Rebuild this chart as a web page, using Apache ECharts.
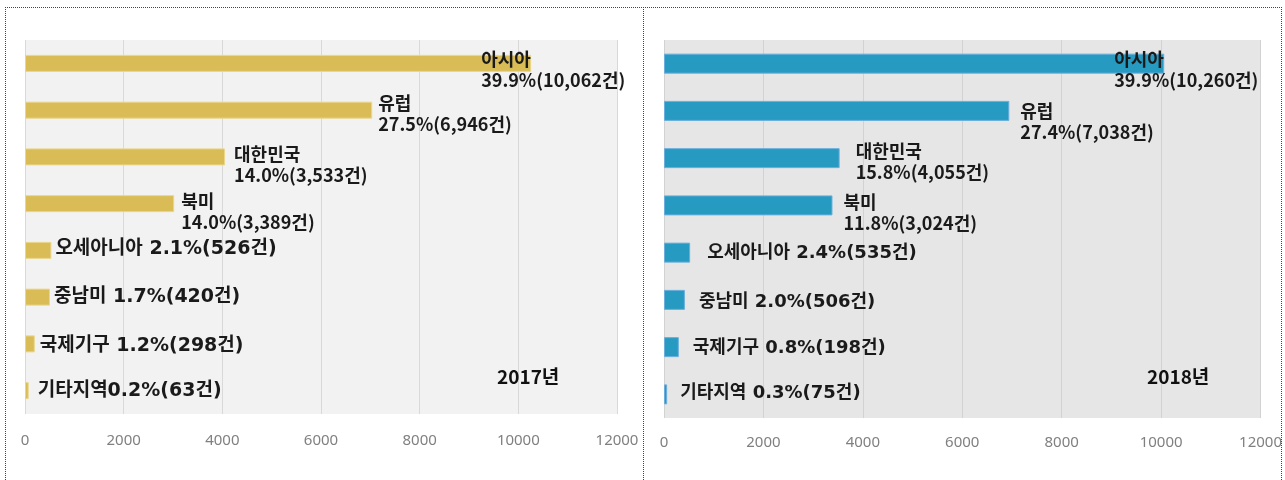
<!DOCTYPE html>
<html>
<head>
<meta charset="utf-8">
<title>지역별 현황 2017 / 2018</title>
<script src="https://cdn.jsdelivr.net/npm/echarts@6/dist/echarts.min.js"></script>
<style>
  html, body { margin: 0; padding: 0; background: #ffffff; }
  #regionChart { width: 1285px; height: 480px; }
</style>
</head>
<body>
<div id="regionChart"></div>
<script>
  /***data***/
  var regions = ['아시아', '유럽', '대한민국', '북미', '오세아니아', '중남미', '국제기구', '기타지역'];
  var xMin = 0, xMax = 12000, xStep = 2000;   //x축 눈금 0 ~ 12000

  var count2017 = [10062, 6946, 3533, 3389, 526, 420, 298, 63];
  var pct2017 = ['39.9', '27.5', '14.0', '14.0', '2.1', '1.7', '1.2', '0.2'];
  var sep2017 = ['\n', '\n', '\n', '\n', ' ', ' ', ' ', ''];

  var count2018 = [10260, 7038, 4055, 3024, 535, 506, 198, 75];
  var pct2018 = ['39.9', '27.4', '15.8', '11.8', '2.4', '2.0', '0.8', '0.3'];
  var sep2018 = ['\n', '\n', '\n', '\n', ' ', ' ', ' ', ' '];

  //막대 길이 (그림에서 읽은 값: 2017 패널 막대는 2018 건수, 2018 패널 막대는 2017 건수 길이로 그려져 있음)
  var bars2017Panel = [10260, 7038, 4055, 3024, 535, 506, 198, 75];
  var bars2018Panel = [10062, 6946, 3533, 3389, 526, 420, 298, 63];

  var yearTitles = ['2017년', '2018년'];

  /***style***/
  var FONT = '"Noto Sans CJK KR", "Noto Sans", sans-serif';
  var FONT_WIDE = '"DejaVu Sans", "Noto Sans CJK KR", sans-serif';  //한 줄 라벨 (숫자 폭 넓음)
  //라벨 위치 보정 [dx, dy]
  var shiftLeft = [[-50, 6], [6, 4], [9, 8], [7, 8], [4, -1], [4, 0], [5, 2], [9, 0]];
  var shiftRight = [[-50, 6], [11, 11], [16, 4], [11, 7], [17, 1], [14, 2], [14, 1], [13, -1]];

  function fmt(n) {
    return n.toString().replace(/\B(?=(\d{3})+(?!\d))/g, ',');
  }

  function makeData(bars, counts, pcts, seps, shifts, oneLineSize) {
    var out = [];
    for (var i = 0; i < bars.length; i++) {
      var twoLine = seps[i] === '\n';
      out.push({
        value: bars[i],
        label: {
          formatter: regions[i] + seps[i] + pcts[i] + '%(' + fmt(counts[i]) + '건)',
          offset: shifts[i],
          fontSize: twoLine ? 18 : oneLineSize,
          fontFamily: twoLine ? FONT : FONT_WIDE
        }
      });
    }
    return out;
  }

  function xAxisOpt(idx, bgLine, margin) {
    return {
      type: 'value',
      gridIndex: idx,
      min: xMin,
      max: xMax,
      interval: xStep,
      axisLine: { show: false },
      axisTick: { show: false },
      axisLabel: {
        margin: margin,
        fontSize: 15,
        color: '#808080',
        fontFamily: '"Noto Sans", sans-serif',
        formatter: function (v) { return String(v); }   //천 단위 콤마 없음
      },
      splitLine: { show: true, lineStyle: { color: bgLine, width: 1 } }
    };
  }

  function yAxisOpt(idx) {
    return {
      type: 'category',
      gridIndex: idx,
      inverse: true,
      data: regions,
      axisLine: { show: false },
      axisTick: { show: false },
      axisLabel: { show: false },
      splitLine: { show: false }
    };
  }

  var labelBase = {
    show: true,
    position: 'right',
    distance: 0,
    fontSize: 18,
    lineHeight: 21,
    fontWeight: 'bold',
    color: '#1a1a1a',
    fontFamily: FONT
  };

  var yearStyle = { fontSize: 19, fontWeight: 700, color: '#111111', fontFamily: FONT };

  //점선 테두리
  var dotted = { stroke: '#444', lineWidth: 1, lineDash: [1, 1] };
  function vline(x) {
    return { type: 'line', shape: { x1: x, y1: 7, x2: x, y2: 480 }, style: dotted, z: 100, silent: true };
  }

  var myChart = echarts.init(document.getElementById('regionChart'));
  var option = {
    animation: false,
    title: [
      { text: yearTitles[0], left: 497, top: 367, padding: 0, textStyle: yearStyle },
      { text: yearTitles[1], left: 1147, top: 367, padding: 0, textStyle: yearStyle }
    ],
    grid: [
      { left: 25, top: 40, width: 592, height: 374, show: true, backgroundColor: '#F2F2F2', borderWidth: 0 },
      { left: 664, top: 40, width: 605, height: 378, show: true, backgroundColor: '#E6E6E6', borderWidth: 0 }
    ],
    xAxis: [xAxisOpt(0, '#D9D9D9', 19), xAxisOpt(1, '#D2D2D2', 17)],
    yAxis: [yAxisOpt(0), yAxisOpt(1)],
    series: [
      {
        name: '2017',
        type: 'bar',
        xAxisIndex: 0,
        yAxisIndex: 0,
        barWidth: 17,
        itemStyle: { color: '#D9BC56', borderColor: '#EAD68C', borderWidth: 1 },
        label: labelBase,
        data: makeData(bars2017Panel, count2017, pct2017, sep2017, shiftLeft, 19)
      },
      {
        name: '2018',
        type: 'bar',
        xAxisIndex: 1,
        yAxisIndex: 1,
        barWidth: 20,
        itemStyle: { color: '#279AC1', borderColor: '#6AAEDC', borderWidth: 1 },
        label: labelBase,
        data: makeData(bars2018Panel, count2018, pct2018, sep2018, shiftRight, 18)
      }
    ],
    graphic: [
      { type: 'line', shape: { x1: 5, y1: 7.5, x2: 1281, y2: 7.5 }, style: dotted, z: 100, silent: true },
      vline(5.5),
      vline(643.5),
      { type: 'rect', shape: { x: 1282, y: 420, width: 3, height: 60 }, style: { fill: '#ffffff' }, z: 99, silent: true },
      vline(1281.5)
    ]
  };
  myChart.setOption(option);
</script>
</body>
</html>
